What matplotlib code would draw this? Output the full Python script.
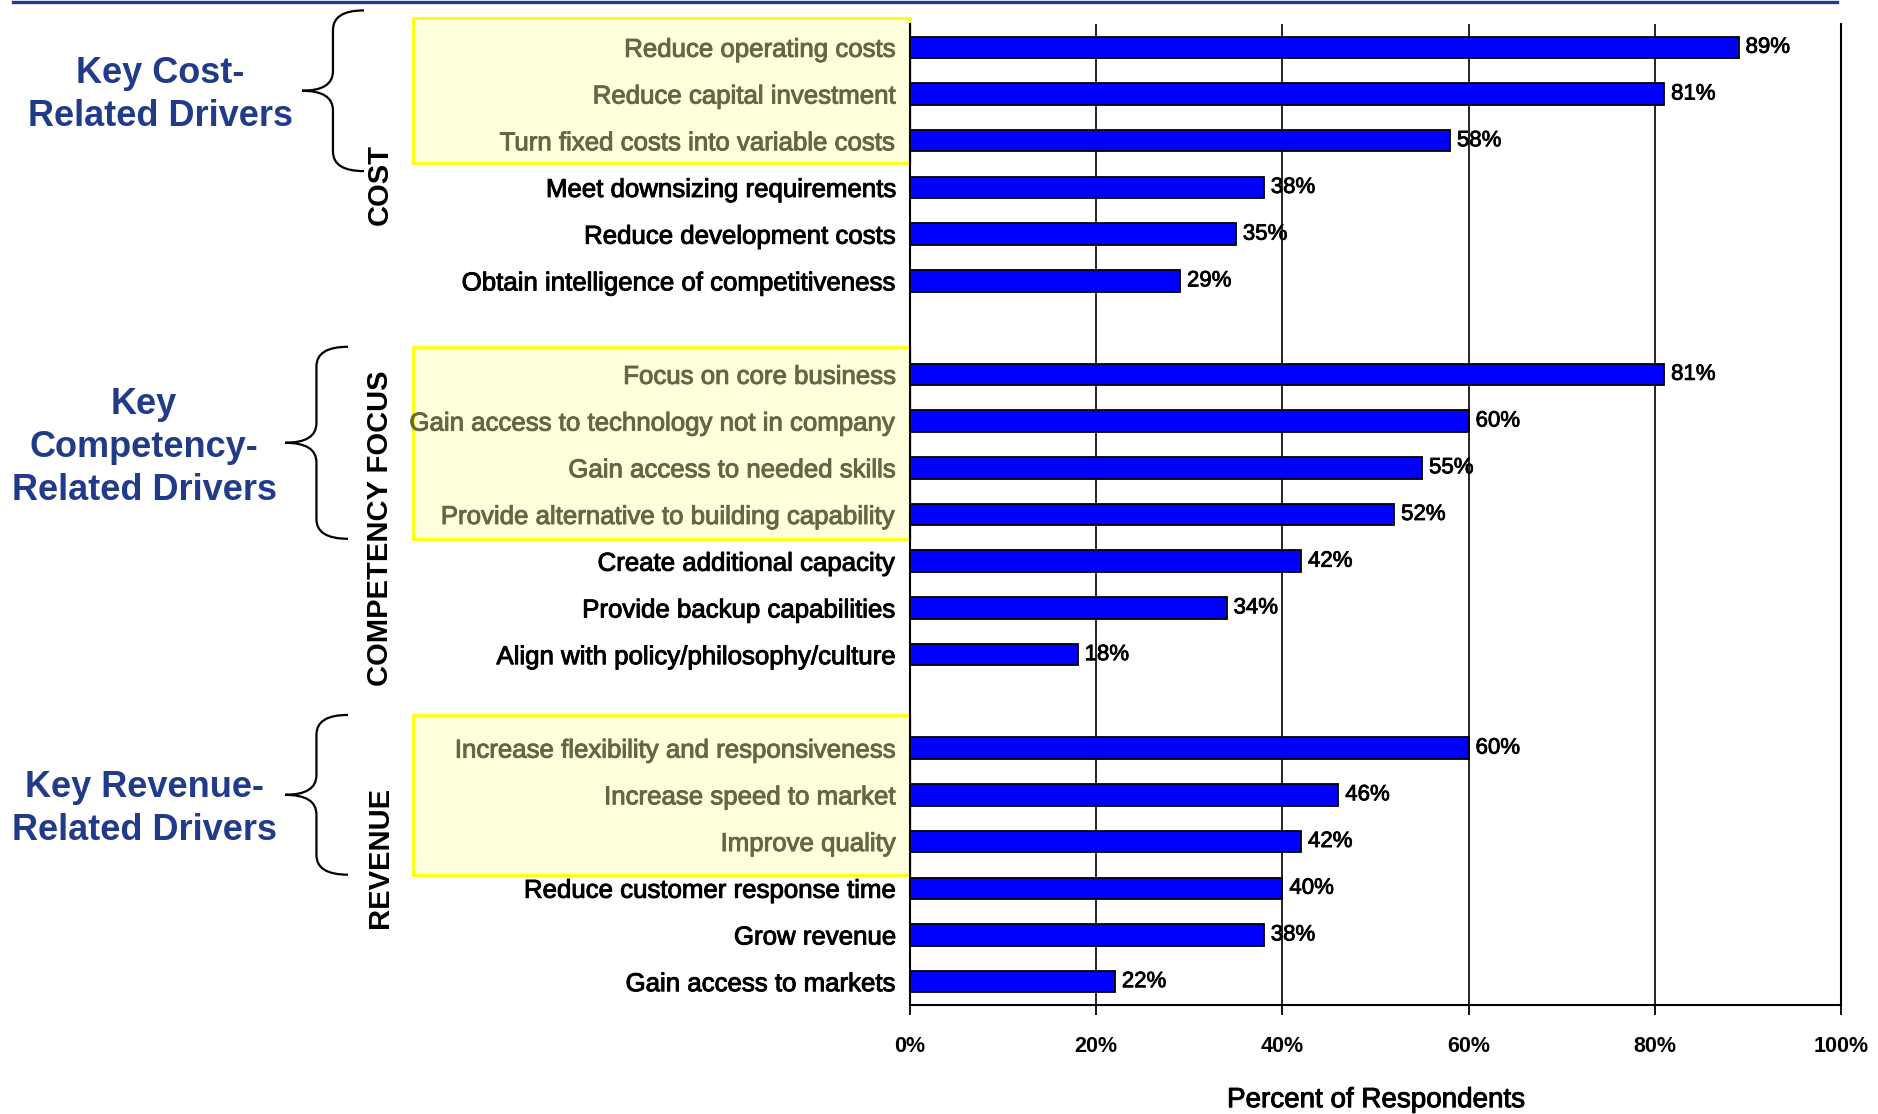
import numpy as np
import matplotlib
matplotlib.use("Agg")
import matplotlib.pyplot as plt
from matplotlib.patches import Rectangle, PathPatch
from matplotlib.path import Path
from matplotlib.lines import Line2D
import matplotlib.transforms as mtransforms
import matplotlib.patheffects as pe

plt.rcParams["font.family"] = ["Liberation Sans", "DejaVu Sans"]

# data
cost_labels = [
    "Reduce operating costs",
    "Reduce capital investment",
    "Turn fixed costs into variable costs",
    "Meet downsizing requirements",
    "Reduce development costs",
    "Obtain intelligence of competitiveness",
]
cost_values = [89, 81, 58, 38, 35, 29]

competency_labels = [
    "Focus on core business",
    "Gain access to technology not in company",
    "Gain access to needed skills",
    "Provide alternative to building capability",
    "Create additional capacity",
    "Provide backup capabilities",
    "Align with policy/philosophy/culture",
]
competency_values = [81, 60, 55, 52, 42, 34, 18]

revenue_labels = [
    "Increase flexibility and responsiveness",
    "Increase speed to market",
    "Improve quality",
    "Reduce customer response time",
    "Grow revenue",
    "Gain access to markets",
]
revenue_values = [60, 46, 42, 40, 38, 22]

group_names = ["COST", "COMPETENCY FOCUS", "REVENUE"]
key_counts = [3, 4, 3]   # highlighted "key" drivers at the top of each group
key_titles = ["Key Cost-\nRelated Drivers",
              "Key\nCompetency-\nRelated Drivers",
              "Key Revenue-\nRelated Drivers"]

x_ticks = [0, 20, 40, 60, 80, 100]
x_title = "Percent of Respondents"

NAVY = "#213B8A"
OLIVE = "#66663F"


def heavy(color, w=0.7):
    # thicken regular text a bit, the source render is quite heavy
    return [pe.withStroke(linewidth=w, foreground=color)]


# row positions with a blank row between groups
groups = [(cost_labels, cost_values), (competency_labels, competency_values),
          (revenue_labels, revenue_values)]
labels, values, rows, colors, group_rows = [], [], [], [], []
r = 0
for (lab, val), nkey in zip(groups, key_counts):
    grp = []
    for i, (l, v) in enumerate(zip(lab, val)):
        labels.append(l)
        values.append(v)
        rows.append(r)
        colors.append(OLIVE if i < nkey else "black")
        grp.append(r)
        r += 1
    group_rows.append(grp)
    r += 1

fig = plt.figure(figsize=(18.78, 11.14), dpi=100)
ax = fig.add_axes([0.4846, 0.0978, 0.4957, 0.8807])

bars = ax.barh(rows, values, height=0.46, color="#0000FF",
               edgecolor="black", linewidth=1.3, zorder=3)
for b, v in zip(bars, values):
    ax.annotate(f"{v}%", (b.get_width(), b.get_y() + b.get_height() / 2),
                xytext=(5, 0), textcoords="offset points",
                va="center", ha="left", fontsize=16, zorder=4,
                path_effects=heavy("black", 0.6))

ax.set_xlim(0, 100)
ax.set_ylim(rows[-1] + 0.5, -0.5)
ax.set_xticks(x_ticks)
ax.set_xticklabels([f"{t}%" for t in x_ticks], fontsize=15.5, fontweight="bold")
ax.set_yticks(rows)
ax.set_yticklabels(labels, fontsize=18.6)
for t, c in zip(ax.get_yticklabels(), colors):
    t.set_color(c)
    t.set_path_effects(heavy(c))
ax.tick_params(axis="y", length=0, pad=10)
ax.tick_params(axis="x", length=7, width=1.3, pad=15, color="black")
ax.grid(axis="x", color="black", linewidth=1.2)
ax.spines["top"].set_visible(False)
for s in ["left", "bottom", "right"]:
    ax.spines[s].set_linewidth(1.5)
ax.set_xlabel(x_title, fontsize=20, labelpad=22, path_effects=heavy("black"))

# highlight boxes and braces: x in figure fraction, y in data rows
trans = mtransforms.blended_transform_factory(fig.transFigure, ax.transData)
box_pad = [(0.62, 0.47), (0.59, 0.52), (0.71, 0.71)]
brace_x = [(0.1938, 0.1773, 0.1608), (0.1853, 0.1685, 0.1518), (0.1853, 0.1685, 0.1518)]
title_x = [0.0852, 0.0767, 0.0767]
title_shift = [0.1, 0.1, 0.3]
name_shift = [0.43, 0.29, -0.17]

for k, grp in enumerate(group_rows):
    top = grp[0] - box_pad[k][0]
    bot = grp[key_counts[k] - 1] + box_pad[k][1]
    ax.add_patch(Rectangle((0.2199, top), 0.4846 - 0.2199, bot - top,
                           transform=trans, clip_on=False, facecolor="#FFFFDD",
                           edgecolor="#FFFF00", linewidth=2, zorder=1))

    btop, bbot = (top - 0.17, bot + 0.18) if k == 0 else (top, bot)
    mid = (btop + bbot) / 2
    xe, xs, xt = brace_x[k]
    rr = 0.42
    verts = [(xe, btop), (xs, btop), (xs, btop + rr), (xs, mid - rr),
             (xs, mid), (xt, mid), (xs, mid), (xs, mid + rr),
             (xs, bbot - rr), (xs, bbot), (xe, bbot)]
    codes = [Path.MOVETO, Path.CURVE3, Path.CURVE3, Path.LINETO,
             Path.CURVE3, Path.CURVE3, Path.CURVE3, Path.CURVE3,
             Path.LINETO, Path.CURVE3, Path.CURVE3]
    ax.add_patch(PathPatch(Path(verts, codes), transform=trans, clip_on=False,
                           fill=False, edgecolor="black", linewidth=1.6))

    ax.text(title_x[k], mid + title_shift[k], key_titles[k], transform=trans,
            ha="center", va="center", multialignment="center", fontsize=26,
            fontweight="bold", color=NAVY, linespacing=1.3)

    gmid = (grp[0] + grp[-1]) / 2 + name_shift[k]
    ax.text(0.2023, gmid, group_names[k], transform=trans, rotation=90,
            ha="center", va="center", fontsize=21, fontweight="bold")

# navy rule at the top
fig.add_artist(Line2D([0.007, 0.978], [0.9985, 0.9985], transform=fig.transFigure,
                      color=NAVY, linewidth=2.4))

fig.savefig("out.png", dpi=100, facecolor="white")
